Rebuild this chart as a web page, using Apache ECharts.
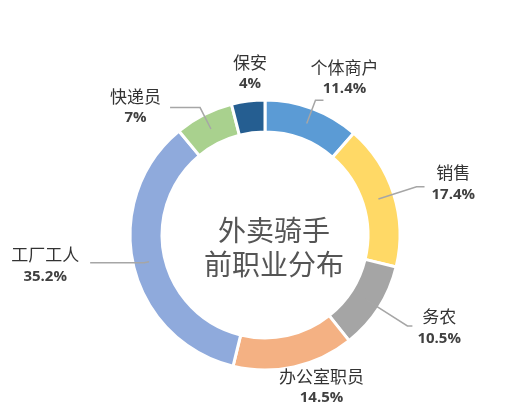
<!DOCTYPE html>
<html>
<head>
<meta charset="utf-8">
<script src="https://cdn.jsdelivr.net/npm/echarts@6/dist/echarts.min.js"></script>
<style>
  html, body { margin: 0; padding: 0; background: #fff; }
  #chart { width: 527px; height: 411px; }
</style>
</head>
<body>
<div id="chart"></div>
<script>
// 外卖骑手前职业分布
var names = ['个体商户', '销售', '务农', '办公室职员', '工厂工人', '快递员', '保安'];
var values = [11.4, 17.4, 10.5, 14.5, 35.2, 7, 4];
var colors = ['#5B9BD5', '#FFD966', '#A5A5A5', '#F4B183', '#8FAADC', '#A9D18E', '#255E91'];
var centerTitle = '外卖骑手\n前职业分布';

// leader line lengths and label nudges, per slice
var lineLen = [25, 40, 50, 30, 5, 24, 40];
var lineLen2 = [8, 8, 5, 0, 54, 30, 0];
var nudge = [[-18, -23], [2, -4], [0, 1], [-23, 6], [-6, 2], [-4, -1], [27, -5]];
var noLine = { '保安': true, '办公室职员': true };

var ringData = names.map(function (n, i) {
  return { name: n, value: values[i], itemStyle: { color: colors[i] } };
});
var labelData = names.map(function (n, i) {
  return {
    name: n, value: values[i],
    labelLine: { show: !noLine[n], length: lineLen[i], length2: lineLen2[i] }
  };
});

var chart = echarts.init(document.getElementById('chart'));
chart.setOption({
  animation: false,
  title: {
    text: centerTitle,
    left: 269, top: 242,
    textAlign: 'center', textVerticalAlign: 'middle',
    textStyle: { fontSize: 28, fontWeight: 'normal', color: '#555', lineHeight: 34,
      fontFamily: 'Noto Sans CJK SC' }
  },
  series: [
    {
      type: 'pie',
      center: [265, 235],
      radius: [103, 135],
      startAngle: 90,
      clockwise: true,
      silent: true,
      itemStyle: { borderColor: '#fff', borderWidth: 3 },
      label: { show: false },
      labelLine: { show: false },
      data: ringData
    },
    {
      type: 'pie',
      center: [265, 235],
      radius: [0, 119],
      startAngle: 90,
      clockwise: true,
      silent: true,
      z: 3,
      avoidLabelOverlap: false,
      itemStyle: { color: 'rgba(0,0,0,0)' },
      label: {
        show: true,
        position: 'outside',
        formatter: function (p) { return '{n|' + p.name + '}\n{v|' + p.value + '%}'; },
        rich: {
          n: { fontSize: 17, color: '#333', fontFamily: 'Noto Sans CJK SC', lineHeight: 23, align: 'center' },
          v: { fontSize: 15, fontWeight: 'bold', color: '#404040', fontFamily: 'Open Sans', lineHeight: 20, align: 'center' }
        }
      },
      labelLine: { lineStyle: { color: '#A6A6A6', width: 1.5 } },
      labelLayout: function (p) {
        var d = nudge[p.dataIndex];
        return { dx: d[0], dy: d[1] };
      },
      data: labelData
    }
  ]
});
</script>
</body>
</html>
